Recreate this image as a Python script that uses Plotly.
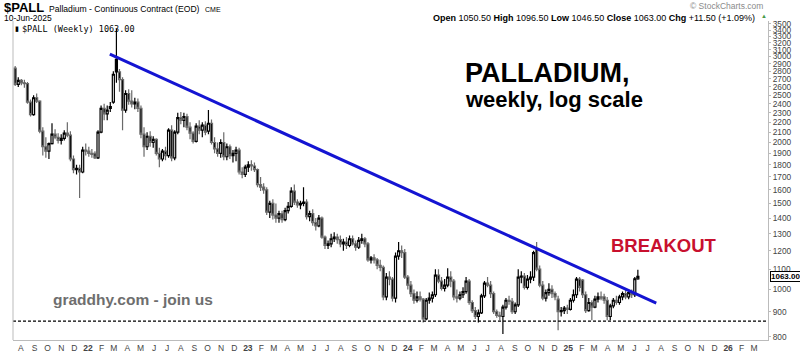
import math
import pandas as pd
import plotly.graph_objects as go

# ---------------- data (weekly candles) ----------------
first_week = "2021-07-19"

week_open = [
    2840, 2630, 2680, 2650, 2640, 2420, 2280, 2470,
    2430, 2110, 1960, 1920, 1990, 2080, 2050, 2020,
    2040, 2090, 2070, 1850, 1760, 1770, 1740, 1930,
    1920, 1900, 1900, 1860, 2100, 2350, 2290, 2350,
    2420, 2960, 2790, 2690, 2330, 2520, 2430, 2400,
    2420, 2350, 2080, 1960, 2060, 2000, 2030, 1900,
    1850, 1920, 1880, 2120, 1860, 2100, 2250, 2220,
    2260, 2150, 2090, 2010, 2160, 2120, 2170, 2110,
    2190, 2000, 1940, 1900, 2000, 1870, 1960, 1880,
    1900, 1930, 1740, 1720, 1780, 1800, 1790, 1760,
    1640, 1620, 1600, 1440, 1500, 1420, 1400, 1430,
    1390, 1450, 1480, 1590, 1510, 1490, 1500, 1510,
    1410, 1430, 1370, 1350, 1400, 1280, 1230, 1240,
    1270, 1280, 1265, 1240, 1250, 1230, 1270, 1240,
    1220, 1260, 1270, 1240, 1150, 1160, 1150, 1120,
    1110, 965, 1060, 1050, 960, 1170, 1200, 1190,
    1060, 1020, 980, 950, 965, 955, 870, 950,
    960, 975, 1070, 1040, 1005, 1020, 1060, 1040,
    965, 960, 975, 990, 1040, 940, 905, 880,
    895, 970, 1030, 1020, 980, 900, 885, 880,
    920, 950, 945, 900, 930, 1060, 1065, 1010,
    1050, 1060, 1210, 1100, 1020, 960, 985, 1000,
    980, 955, 900, 905, 915, 910, 950, 975,
    1050, 1045, 975, 905, 940, 920, 955, 965,
    965, 950, 880, 925, 950, 940, 965, 980,
    965, 985, 975, 1050.5,
]
week_high = [
    2870, 2720, 2700, 2690, 2660, 2450, 2500, 2520,
    2440, 2150, 2050, 2000, 2190, 2130, 2090, 2080,
    2120, 2200, 2110, 1880, 1800, 1800, 1960, 1990,
    1960, 1940, 1920, 2120, 2380, 2400, 2380, 2420,
    2800, 3420, 2830, 2720, 2560, 2570, 2560, 2470,
    2460, 2380, 2150, 2100, 2110, 2060, 2040, 1950,
    1940, 1960, 2140, 2170, 2120, 2300, 2310, 2300,
    2290, 2200, 2110, 2190, 2220, 2200, 2210, 2330,
    2230, 2050, 2000, 2030, 2100, 1990, 1980, 1930,
    1960, 1950, 1780, 1800, 1830, 1840, 1820, 1770,
    1700, 1650, 1620, 1520, 1530, 1500, 1450, 1450,
    1470, 1510, 1620, 1640, 1530, 1520, 1620, 1530,
    1450, 1460, 1400, 1420, 1410, 1290, 1260, 1300,
    1310, 1300, 1290, 1270, 1280, 1290, 1290, 1260,
    1280, 1300, 1280, 1250, 1170, 1180, 1160, 1150,
    1120, 1080, 1090, 1060, 1190, 1250, 1230, 1210,
    1070, 1040, 1000, 990, 990, 960, 960, 985,
    990, 1100, 1100, 1060, 1050, 1105, 1090, 1050,
    1000, 990, 1010, 1060, 1050, 950, 920, 910,
    980, 1040, 1060, 1040, 990, 910, 900, 930,
    960, 970, 960, 940, 1100, 1090, 1080, 1070,
    1090, 1200, 1250, 1120, 1040, 1000, 1030, 1020,
    990, 970, 920, 925, 930, 960, 1000, 1060,
    1060, 1050, 990, 960, 950, 970, 985, 990,
    980, 965, 935, 960, 970, 975, 990, 1000,
    1000, 1000, 1060, 1096.5,
]
week_low = [
    2610, 2600, 2620, 2590, 2400, 2260, 2270, 2410,
    2090, 1880, 1860, 1850, 1980, 2030, 1990, 1980,
    2020, 2050, 1830, 1730, 1720, 1540, 1730, 1880,
    1870, 1860, 1850, 1850, 2090, 2220, 2220, 2310,
    2400, 2650, 2540, 2120, 2300, 2390, 2360, 2340,
    2310, 2040, 1870, 1930, 1960, 1950, 1880, 1780,
    1830, 1840, 1860, 1830, 1840, 2080, 2180, 2150,
    2120, 2030, 1990, 2000, 2080, 2050, 2070, 2080,
    1980, 1900, 1870, 1860, 1840, 1840, 1850, 1820,
    1830, 1720, 1690, 1700, 1740, 1750, 1740, 1620,
    1590, 1570, 1420, 1400, 1390, 1370, 1370, 1370,
    1380, 1430, 1470, 1490, 1470, 1460, 1480, 1390,
    1380, 1350, 1320, 1340, 1270, 1210, 1210, 1220,
    1250, 1240, 1220, 1200, 1210, 1220, 1230, 1200,
    1210, 1240, 1220, 1140, 1130, 1130, 1100, 1090,
    950, 950, 1020, 945, 940, 1150, 1160, 1050,
    1000, 965, 935, 940, 945, 855, 865, 935,
    940, 965, 1030, 995, 990, 1010, 1010, 950,
    940, 950, 960, 980, 930, 895, 870, 855,
    890, 960, 1010, 960, 890, 875, 865, 810,
    910, 930, 890, 890, 920, 1030, 1000, 1000,
    1030, 1040, 1090, 1010, 950, 945, 970, 960,
    950, 825, 880, 890, 890, 905, 940, 960,
    990, 960, 895, 900, 865, 915, 940, 950,
    935, 865, 865, 915, 930, 930, 950, 955,
    955, 960, 965, 1046.5,
]
week_close = [
    2630, 2680, 2650, 2640, 2420, 2280, 2470, 2430,
    2110, 1960, 1920, 1990, 2080, 2050, 2020, 2040,
    2090, 2070, 1850, 1760, 1770, 1740, 1930, 1920,
    1900, 1890, 1860, 2100, 2350, 2290, 2330, 2370,
    2760, 2790, 2690, 2330, 2520, 2430, 2400, 2420,
    2350, 2080, 1960, 2060, 2000, 2030, 1900, 1850,
    1920, 1880, 2120, 1860, 2100, 2250, 2220, 2260,
    2150, 2090, 2010, 2160, 2120, 2170, 2100, 2190,
    2000, 1940, 1900, 2000, 1870, 1960, 1880, 1900,
    1930, 1740, 1720, 1780, 1800, 1790, 1760, 1640,
    1620, 1600, 1440, 1500, 1420, 1400, 1430, 1390,
    1450, 1480, 1590, 1510, 1490, 1500, 1510, 1410,
    1430, 1370, 1350, 1400, 1280, 1230, 1240, 1270,
    1280, 1265, 1240, 1250, 1230, 1270, 1240, 1220,
    1260, 1270, 1240, 1150, 1160, 1150, 1120, 1110,
    965, 1060, 1050, 960, 1170, 1200, 1190, 1060,
    1020, 980, 950, 965, 955, 870, 950, 960,
    975, 1070, 1040, 1005, 1020, 1060, 1040, 965,
    960, 975, 990, 1040, 940, 905, 880, 895,
    970, 1030, 1020, 980, 900, 885, 880, 920,
    950, 945, 900, 930, 1060, 1065, 1010, 1050,
    1060, 1190, 1100, 1020, 960, 985, 1000, 980,
    965, 900, 905, 915, 910, 950, 975, 1050,
    1010, 975, 905, 940, 920, 955, 965, 960,
    950, 880, 925, 950, 940, 965, 980, 965,
    985, 975, 1051.5, 1063,
]

trend_dates = ["2022-02-20", "2025-07-21"]
trend_prices = [3036, 937.6]
support_price = 861
x_range = ["2021-07-14", "2026-04-02"]
y_range_prices = [787.6, 3548]
y_tick_values = list(range(800, 3501, 100))
month_ticks = pd.date_range("2021-08-01", "2026-03-01", freq="MS")
last_date_label = "10-Jun-2025"

# ---------------- figure ----------------
W, H = 800, 353
ML, MR, MT, MB = 13, 32, 21, 13
PW, PH = W - ML - MR, H - MT - MB
FONT = "Liberation Sans, Arial, sans-serif"


def paper(px, py):
    return (px - ML) / PW, (H - MB - py) / PH


dates = pd.date_range(first_week, periods=len(week_close), freq="7D")
prev_close = [week_open[0]] + week_close[:-1]
up_idx = [i for i in range(len(week_close)) if week_close[i] >= prev_close[i]]
dn_idx = [i for i in range(len(week_close)) if week_close[i] < prev_close[i]]


def sub(arr, idx):
    return [arr[i] for i in idx]


fig = go.Figure()
for idx, col in ((up_idx, "#000000"), (dn_idx, "#6a6a6a")):
    fig.add_trace(go.Candlestick(
        x=sub(list(dates), idx),
        open=sub(week_open, idx), high=sub(week_high, idx),
        low=sub(week_low, idx), close=sub(week_close, idx),
        increasing=dict(line=dict(color=col, width=1.2), fillcolor="#ffffff"),
        decreasing=dict(line=dict(color=col, width=1.2), fillcolor="#000000"),
        whiskerwidth=0, hoverinfo="skip", showlegend=False,
    ))

fig.add_trace(go.Scatter(
    x=x_range, y=[support_price, support_price], mode="lines",
    line=dict(color="#000000", width=1.4, dash="3px,2px"),
    hoverinfo="skip", showlegend=False))
fig.add_trace(go.Scatter(
    x=trend_dates, y=trend_prices, mode="lines",
    line=dict(color="#1414d2", width=3),
    hoverinfo="skip", showlegend=False))

tick_text = [f"<b>{d.year % 100:02d}</b>" if d.month == 1 else "JFMAMJJASOND"[d.month - 1]
             for d in month_ticks]

fig.update_layout(
    width=W, height=H,
    margin=dict(l=ML, r=MR, t=MT, b=MB, autoexpand=False),
    paper_bgcolor="white", plot_bgcolor="white",
    font=dict(family=FONT, size=9, color="#333"),
    showlegend=False, hovermode=False,
    boxmode="overlay", boxgap=0.05,
    xaxis=dict(
        type="date", range=x_range, rangeslider=dict(visible=False),
        tickvals=list(month_ticks), ticktext=tick_text, automargin=False,
        showgrid=False, zeroline=False, showline=True, linecolor="#bbbbbb",
        ticks="", tickfont=dict(size=8.5, color="#444"),
    ),
    yaxis=dict(
        type="log", side="right", automargin=False,
        range=[math.log10(y_range_prices[0]), math.log10(y_range_prices[1])],
        tickvals=y_tick_values, ticktext=[str(v) for v in y_tick_values],
        showgrid=False, zeroline=False, showline=True, linecolor="#bbbbbb",
        ticks="outside", ticklen=2, tickcolor="#bbbbbb",
        tickfont=dict(size=8.3, color="#444"),
    ),
)

fig.add_shape(type="line", xref="paper", yref="paper", x0=0, x1=0, y0=0, y1=1,
              line=dict(color="#bbbbbb", width=1))

ann = []


def text(px, py, s, size, anchor="left", color="#000", family=FONT):
    x, y = paper(px, py)
    ann.append(dict(x=x, y=y, xref="paper", yref="paper", text=s, showarrow=False,
                    xanchor=anchor, yanchor="middle",
                    font=dict(size=size, color=color, family=family)))


last_o, last_h, last_l, last_c = week_open[-1], week_high[-1], week_low[-1], week_close[-1]
chg = last_c - week_close[-2]
pct = chg / week_close[-2] * 100

text(2, 8, "<b>$PALL</b>", 13)
text(47, 9, "Palladium - Continuous Contract (EOD)", 8.6)
text(203, 9.5, "CME", 7)
text(2, 17.5, last_date_label, 8.5)
text(765, 6, "© StockCharts.com", 8.5, anchor="right", color="#8a8a8a")
text(757, 17.5,
     f"<b>Open</b> {last_o:.2f} <b>High</b> {last_h:.2f} <b>Low</b> {last_l:.2f} "
     f"<b>Close</b> {last_c:.2f} <b>Chg</b> {chg:+.2f} ({pct:+.2f}%)", 9, anchor="right")
text(759, 16.5, "▲", 6, color="#4a9a4a")
text(13, 28.5, "▮", 7)
text(20, 29, f"$PALL (Weekly) {last_c:.2f}", 8.5, family="DejaVu Sans Mono, monospace")
text(463, 73, "<b>PALLADIUM,</b>", 27)
text(463, 99, "<b>weekly, log scale</b>", 22)
text(664, 245, "<b>BREAKOUT</b>", 18.5, anchor="center", color="#c8102e")
text(133, 299, "<b>graddhy.com - join us</b>", 15.5, anchor="center", color="#6e6e6e")

ann.append(dict(x=1, xref="paper", y=math.log10(last_c), yref="y", xanchor="left",
                yanchor="middle", xshift=2, showarrow=False,
                text=f"<b>{last_c:.2f}</b>", bgcolor="white", bordercolor="#000",
                borderwidth=1, borderpad=0, font=dict(size=8, color="#000", family=FONT)))
fig.update_layout(annotations=ann)

fig.write_html("out.html", config={"displayModeBar": False})
